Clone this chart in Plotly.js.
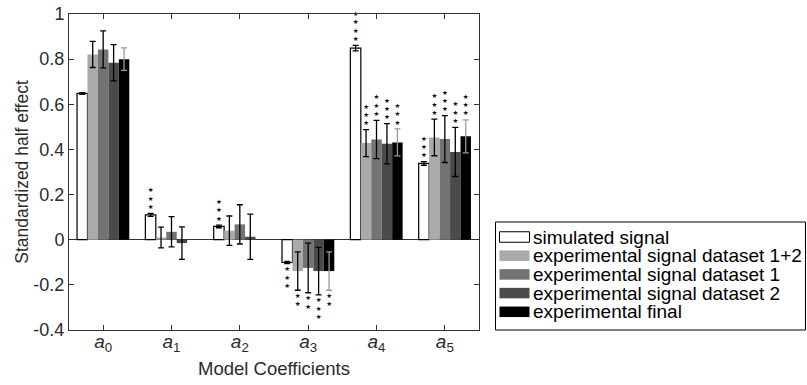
<!DOCTYPE html>
<html>
<head>
<meta charset="utf-8">
<script src="https://cdn.plot.ly/plotly-3.0.1.min.js"></script>
<style>html,body{margin:0;padding:0;background:#fff;}#chart{width:807px;height:385px;}</style>
</head>
<body>
<div id="chart"></div>
<script>
// ---- data ----
var coefLabels = ['<i>a</i><sub>0</sub>','<i>a</i><sub>1</sub>','<i>a</i><sub>2</sub>','<i>a</i><sub>3</sub>','<i>a</i><sub>4</sub>','<i>a</i><sub>5</sub>'];
var coefPos = [0, 1, 2, 3, 4, 5];
var seriesNames = ['simulated signal','experimental signal dataset 1+2','experimental signal dataset 1','experimental signal dataset 2','experimental final'];

var simVals   = [0.648, 0.110, 0.059, -0.101, 0.849, 0.338];
var simErr    = [0.004, 0.007, 0.006, 0.005, 0.012, 0.008];
var simStars  = [0, 3, 3, 3, 4, 3];

var exp12Vals  = [0.821, 0.010, 0.040, -0.139, 0.428, 0.453];
var exp12Err   = [0.058, 0.046, 0.065, 0.085, 0.060, 0.081];
var exp12Stars = [0, 0, 0, 2, 3, 3];

var ds1Vals  = [0.843, 0.035, 0.068, -0.125, 0.444, 0.446];
var ds1Err   = [0.082, 0.067, 0.087, 0.110, 0.085, 0.104];
var ds1Stars = [0, 0, 0, 2, 3, 3];

var ds2Vals  = [0.784, -0.015, 0.013, -0.139, 0.425, 0.389];
var ds2Err   = [0.080, 0.072, 0.100, 0.105, 0.089, 0.109];
var ds2Stars = [0, 0, 0, 3, 3, 3];

var finalVals  = [0.800, null, null, -0.139, 0.431, 0.458];
var finalErr   = [0.050, null, null, 0.085, 0.060, 0.073];
var finalStars = [0, 0, 0, 2, 3, 3];

var yTickVals = [-0.4, -0.2, 0, 0.2, 0.4, 0.6, 0.8, 1];
var yTickText = ['-0.4', '-0.2', '0', '0.2', '0.4', '0.6', '0.8', '1'];

// ---- styles ----
var fills   = ['#ffffff', '#aaaaaa', '#737373', '#4a4a4a', '#000000'];
var errCols = ['#000000', '#000000', '#000000', '#000000', '#9a9a9a'];
var bargap = 0.235;
var nSeries = 5;
var barW = (1 - bargap) / nSeries;
var yRange = [-0.4, 1];
var mL = 69, mR = 328, mT = 14, mB = 55, W = 807, H = 385;
var plotW = W - mL - mR, plotH = H - mT - mB;
var pxPerUnit = plotH / (yRange[1] - yRange[0]);
var starStep = 8.3 / pxPerUnit;    // vertical spacing between stars
var starFirst = 6 / pxPerUnit;     // gap between error bar end and first star centre

var allVals  = [simVals, exp12Vals, ds1Vals, ds2Vals, finalVals];
var allErr   = [simErr, exp12Err, ds1Err, ds2Err, finalErr];
var allStars = [simStars, exp12Stars, ds1Stars, ds2Stars, finalStars];

var traces = [];
for (var k = 0; k < nSeries; k++) {
  traces.push({
    type: 'bar',
    name: seriesNames[k],
    x: coefPos,
    y: allVals[k],
    marker: {color: fills[k], line: {color: '#000', width: k === 0 ? 1.2 : 0}},
    error_y: {type: 'data', array: allErr[k], visible: true, color: errCols[k], thickness: 1.3, width: 3},
    hoverinfo: 'skip', showlegend: false
  });
}
// significance stars (one text glyph per star)
var sx = [], sy = [], st = [];
for (var k = 0; k < nSeries; k++) {
  for (var i = 0; i < coefPos.length; i++) {
    var n = allStars[k][i];
    if (!n || allVals[k][i] === null) continue;
    var v = allVals[k][i], e = allErr[k][i];
    var sgn = v >= 0 ? 1 : -1;
    var base = v + sgn * e;
    for (var j = 0; j < n; j++) {
      sx.push(coefPos[i] + (k - (nSeries - 1) / 2) * barW);
      sy.push(base + sgn * (starFirst + j * starStep));
      st.push('★');
    }
  }
}
traces.push({
  type: 'scatter', mode: 'text', x: sx, y: sy, text: st, textposition: 'middle center',
  textfont: {family: 'DejaVu Sans', size: 6.5, color: '#111'},
  showlegend: false, hoverinfo: 'skip', cliponaxis: false
});

// ---- legend (drawn in paper coordinates from the series names / fills) ----
function px2x(p) { return (p - mL) / plotW; }
function px2y(p) { return (H - mB - p) / plotH; }
var legBox = {x0: 495.5, x1: 805.5, y0: 222, y1: 330};
var legRow0 = 237, legRowStep = 18.7, swX0 = 499.5, swX1 = 529.5, swH = 10.5, txtX = 531;
var fontFam = 'Liberation Sans, Arial, sans-serif';
var txtCol = '#2b2b2b';
var shapes = [{type: 'rect', xref: 'paper', yref: 'paper',
  x0: px2x(legBox.x0), x1: px2x(legBox.x1), y0: px2y(legBox.y1), y1: px2y(legBox.y0),
  line: {color: '#000', width: 1}, fillcolor: '#fff', layer: 'above'}];
var annotations = [];
for (var k = 0; k < nSeries; k++) {
  var cy = legRow0 + k * legRowStep;
  shapes.push({type: 'rect', xref: 'paper', yref: 'paper',
    x0: px2x(swX0), x1: px2x(swX1), y0: px2y(cy + swH / 2), y1: px2y(cy - swH / 2),
    fillcolor: fills[k], line: {color: '#000', width: k === 0 ? 1 : 0}, layer: 'above'});
  annotations.push({xref: 'paper', yref: 'paper', x: px2x(txtX), y: px2y(cy),
    xanchor: 'left', yanchor: 'middle', showarrow: false, text: seriesNames[k],
    font: {family: fontFam, size: 19, color: '#000'}});
}

var layout = {
  width: W, height: H,
  margin: {l: mL, r: mR, t: mT, b: mB},
  paper_bgcolor: '#fff', plot_bgcolor: '#fff',
  barmode: 'group', bargap: bargap, bargroupgap: 0,
  font: {family: fontFam, size: 18, color: txtCol},
  showlegend: false,
  shapes: shapes, annotations: annotations,
  xaxis: {
    range: [-0.5, 5.5], tickvals: coefPos, ticktext: coefLabels,
    ticks: 'inside', ticklen: 5, tickcolor: '#333', showline: true, linecolor: '#333', linewidth: 1,
    mirror: 'ticks', showgrid: false, zeroline: false, ticklabelstandoff: -6,
    tickfont: {family: fontFam, size: 19, color: txtCol},
    title: {text: 'Model Coefficients', font: {family: fontFam, size: 18.5, color: txtCol}, standoff: 8}
  },
  yaxis: {
    range: yRange, tickvals: yTickVals, ticktext: yTickText,
    ticks: 'inside', ticklen: 5, tickcolor: '#333', showline: true, linecolor: '#333', linewidth: 1,
    mirror: 'ticks', showgrid: false, zeroline: true, zerolinecolor: '#333', zerolinewidth: 1,
    tickfont: {family: fontFam, size: 18, color: txtCol},
    title: {text: 'Standardized half effect', font: {family: fontFam, size: 17.5, color: txtCol}, standoff: 0}
  }
};

Plotly.newPlot('chart', traces, layout, {displayModeBar: false, staticPlot: true});
</script>
</body>
</html>
